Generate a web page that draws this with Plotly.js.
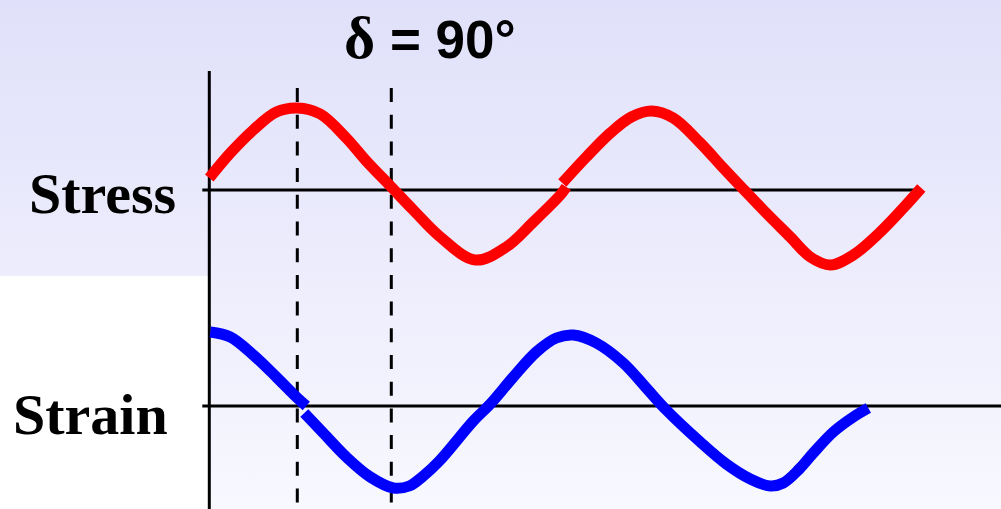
<!DOCTYPE html>
<html>
<head>
<meta charset="utf-8">
<script src="https://cdn.plot.ly/plotly-3.0.1.min.js"></script>
<style>
  html, body { margin: 0; padding: 0; background: #ffffff; }
  #wrap { position: relative; width: 1001px; height: 509px; overflow: hidden; }
  #bg { position: absolute; left: 0; top: 0; width: 1001px; height: 509px;
        background: linear-gradient(to bottom, #E0E0FA 0%, #F8F8FF 100%); }
  #bgcut { position: absolute; left: 0; top: 276px; width: 208px; height: 233px; background: #ffffff; }
  #chart { position: absolute; left: 0; top: 0; width: 1001px; height: 509px; }
</style>
</head>
<body>
<div id="wrap">
  <div id="bg"></div>
  <div id="bgcut"></div>
  <div id="chart"></div>
</div>
<script>
// Time (arbitrary units, origin at the vertical axis) and signal values (arbitrary units)
const stressT1 = [0, 21, 44, 67, 88, 111, 137, 157, 182, 204, 231, 266, 297, 324, 351, 357];
const stressV1 = [12, 37, 60, 78, 82, 76, 52, 29, 3, -20, -47, -70, -57, -32, -5, 3];
const stressT2 = [353, 377, 401, 422, 442, 464, 491, 514, 531, 554, 581, 601, 621, 644, 671, 694, 712];
const stressV2 = [7, 33, 57, 73, 79, 72, 47, 22, 4, -20, -47, -67, -75, -65, -42, -18, 2];

const strainT1 = [1, 21, 44, 67, 87, 97];
const strainV1 = [74, 69, 51, 29, 9, 0];
const strainT2 = [95, 114, 137, 161, 184, 200, 214, 230, 264, 281, 304, 327, 347, 364, 387, 414, 437, 457, 491, 517, 541, 561, 574, 590, 604, 624, 644, 659];
const strainV2 = [-7, -27, -51, -71, -82, -80, -70, -55, -15, 2, 29, 54, 68, 71, 63, 43, 18, -4, -36, -58, -73, -80, -77, -63, -47, -26, -11, -2];

const markerTimes = [88, 182];   // dashed guide lines
const titleParts = ["δ", "\u00A0= 90°"];
const rowLabels = ["Stress", "Strain"];

const redLine = {color: "#FF0000", width: 11, shape: "spline", smoothing: 1};
const blueLine = {color: "#0000FF", width: 11, shape: "spline", smoothing: 1};

const traces = [
  {x: stressT1, y: stressV1, mode: "lines", line: redLine, yaxis: "y", hoverinfo: "skip"},
  {x: stressT2, y: stressV2, mode: "lines", line: redLine, yaxis: "y", hoverinfo: "skip"},
  {x: strainT1, y: strainV1, mode: "lines", line: blueLine, yaxis: "y2", hoverinfo: "skip"},
  {x: strainT2, y: strainV2, mode: "lines", line: blueLine, yaxis: "y2", hoverinfo: "skip"}
];

const shapes = [
  {type: "line", xref: "x", yref: "paper", x0: 0, x1: 0, y0: 0, y1: 0.8605,
   line: {color: "#000000", width: 3}, layer: "below"},
  {type: "line", xref: "x", yref: "y", x0: -7, x1: 709, y0: 0, y1: 0,
   line: {color: "#000000", width: 3}, layer: "below"},
  {type: "line", xref: "x", yref: "y2", x0: -7, x1: 800, y0: 0, y1: 0,
   line: {color: "#000000", width: 3}, layer: "below"}
];
markerTimes.forEach(t => shapes.push({
  type: "line", xref: "x", yref: "paper", x0: t, x1: t, y0: 0.8271, y1: 0,
  line: {color: "#000000", width: 3, dash: "14px,12.7px"}, layer: "below"
}));

const annotations = [
  {text: "<b><span style='font-family:\"Liberation Serif\";font-size:60px'>" + titleParts[0] + "</span>" + titleParts[1] + "</b>",
   xref: "paper", yref: "paper", x: 0.4296, y: 0.925, xanchor: "center", yanchor: "middle",
   showarrow: false, font: {family: "Liberation Sans, Arial, sans-serif", size: 53, color: "#000000"}},
  {text: "<b>" + rowLabels[0] + "</b>", xref: "paper", yref: "paper", x: 0.1778, y: 0.6189,
   xanchor: "right", yanchor: "middle", showarrow: false,
   font: {family: "Liberation Serif, Times New Roman, serif", size: 58, color: "#000000"}},
  {text: "<b>" + rowLabels[1] + "</b>", xref: "paper", yref: "paper", x: 0.1698, y: 0.1847,
   xanchor: "right", yanchor: "middle", showarrow: false,
   font: {family: "Liberation Serif, Times New Roman, serif", size: 58, color: "#000000"}}
];

const layout = {
  width: 1001, height: 509,
  margin: {l: 0, r: 0, t: 0, b: 0, pad: 0},
  paper_bgcolor: "rgba(0,0,0,0)", plot_bgcolor: "rgba(0,0,0,0)",
  showlegend: false,
  xaxis: {range: [-209.3, 791.7], visible: false, fixedrange: true},
  yaxis: {range: [-319, 190], visible: false, fixedrange: true},
  yaxis2: {range: [-103, 406], visible: false, overlaying: "y", fixedrange: true},
  shapes: shapes,
  annotations: annotations
};

Plotly.newPlot("chart", traces, layout, {staticPlot: true, displayModeBar: false});
</script>
</body>
</html>
